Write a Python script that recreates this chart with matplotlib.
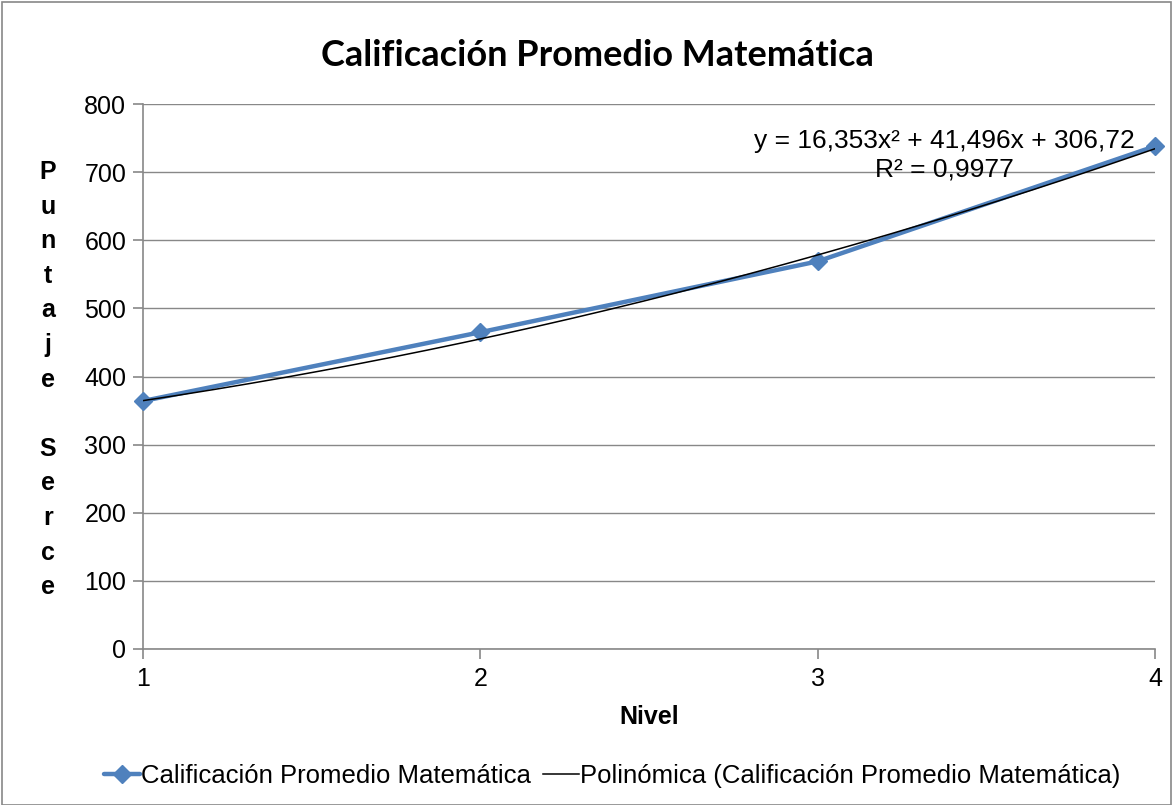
import numpy as np
import matplotlib
matplotlib.use("Agg")
import matplotlib.pyplot as plt
from matplotlib.patches import Rectangle

niveles = [1, 2, 3, 4]
puntaje = [364, 465, 569, 738]
coef = [16.353, 41.496, 306.72]  # polinomio de tendencia
r2 = 0.9977

serie = "Calificación Promedio Matemática"
azul = "#4F81BD"
gris = "#888888"

plt.rcParams["font.family"] = ["Liberation Sans", "DejaVu Sans"]

fig = plt.figure(figsize=(11.73, 8.05), dpi=100)
ax = fig.add_axes([143 / 1173, 1 - 649 / 805, (1155 - 143) / 1173, (649 - 104) / 805])

ax.plot(niveles, puntaje, color=azul, lw=3.2, marker="D", ms=9,
        label=serie, zorder=3, solid_capstyle="round", clip_on=False)
xs = np.linspace(1, 4, 200)
ax.plot(xs, np.polyval(coef, xs), color="black", lw=1.1,
        label="Polinómica (" + serie + ")", zorder=4)

ax.set_xlim(1, 4)
ax.set_ylim(0, 800)
ax.set_xticks(niveles)
ax.set_yticks(range(0, 801, 100))
ax.grid(axis="y", color=gris, lw=1)
ax.set_axisbelow(True)
for s in ["top", "right"]:
    ax.spines[s].set_visible(False)
for s in ["left", "bottom"]:
    ax.spines[s].set_color(gris)
    ax.spines[s].set_linewidth(1.2)
ax.tick_params(colors=gris, labelcolor="black", labelsize=18, length=7, width=1.2)
ax.tick_params(axis="y", pad=5)
ax.tick_params(axis="x", pad=6)

fig.text(597 / 1173, 1 - 55 / 805, serie, ha="center", va="center",
         fontsize=26, fontweight="bold", family=["Lato", "DejaVu Sans"])
fig.text(649 / 1173, 1 - 717 / 805, "Nivel", ha="center", va="center",
         fontsize=18, fontweight="bold")
letras = "Puntaje Serce"
y0 = 172
for i, c in enumerate(letras):
    if c != " ":
        fig.text(48 / 1173, 1 - (y0 + i * 34.6) / 805, c, ha="center",
                 va="center", fontsize=18, fontweight="bold")

def coma(v):
    return str(v).replace(".", ",")

eq = "y = %sx² + %sx + %s" % (coma(coef[0]), coma(coef[1]), coma(coef[2]))
fig.text(944 / 1173, 1 - 141 / 805, eq, ha="center", va="center", fontsize=19)
fig.text(944 / 1173, 1 - 169 / 805, "R² = " + coma(r2),
         ha="center", va="center", fontsize=19)

fig.legend(loc="center", bbox_to_anchor=(612 / 1173, 1 - 776 / 805), ncol=2,
           frameon=False, fontsize=18.5, handlelength=1.4, handletextpad=0.05,
           columnspacing=0.45, borderaxespad=0)

fig.patches.append(Rectangle((2 / 1173, 0), 1 - 4 / 1173, 1 - 2 / 805,
                             transform=fig.transFigure, fill=False,
                             edgecolor=gris, lw=1.2))

fig.savefig("out.png", dpi=100)
